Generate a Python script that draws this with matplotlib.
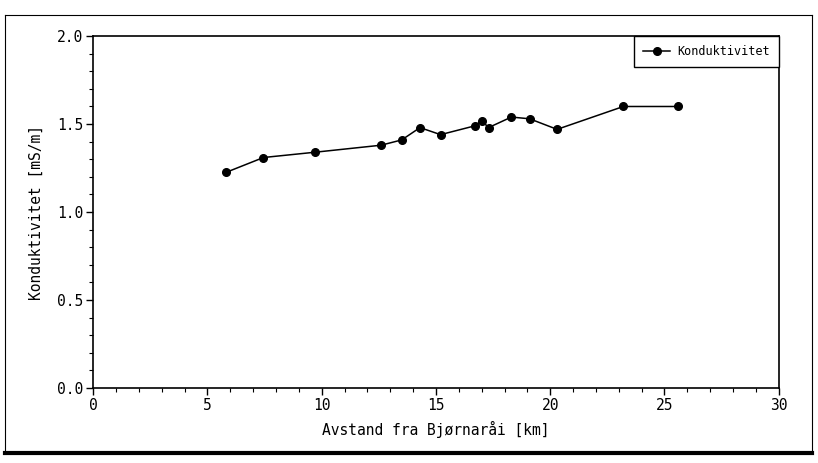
import numpy as np
import matplotlib
matplotlib.use("Agg")
import matplotlib.pyplot as plt
from matplotlib.ticker import MultipleLocator, FormatStrFormatter

# Dados (distancia em km, condutividade em mS/m)
avstand = [5.8, 7.45, 9.7, 12.6, 13.5, 14.3, 15.2, 16.7, 17.0, 17.3,
           18.3, 19.1, 20.3, 23.2, 25.6]
konduktivitet = [1.225, 1.31, 1.34, 1.38, 1.41, 1.48, 1.44, 1.49, 1.52, 1.48,
                 1.54, 1.53, 1.47, 1.60, 1.60]

serie_navn = "Konduktivitet"
x_label = "Avstand fra Bjørnaråi [km]"
y_label = "Konduktivitet [mS/m]"

plt.rcParams["font.family"] = ["DejaVu Sans Mono"]

fig = plt.figure(figsize=(8.18, 4.63), dpi=100)
ax = fig.add_axes([0.114, 0.162, 0.838, 0.760])

ax.plot(avstand, konduktivitet, color="black", lw=1.1, marker="o", ms=5.5,
        label=serie_navn)

ax.set_xlim(0, 30)
ax.set_ylim(0, 2.0)
ax.xaxis.set_major_locator(MultipleLocator(5))
ax.xaxis.set_minor_locator(MultipleLocator(1))
ax.yaxis.set_major_locator(MultipleLocator(0.5))
ax.yaxis.set_minor_locator(MultipleLocator(0.1))
ax.yaxis.set_major_formatter(FormatStrFormatter("%.1f"))

ax.tick_params(which="major", direction="out", length=5, width=1, labelsize=10.5, pad=2)
ax.tick_params(which="minor", direction="out", length=3, width=0.8)
for s in ax.spines.values():
    s.set_linewidth(1.2)

ax.set_xlabel(x_label, fontsize=10.5, labelpad=6)
ax.set_ylabel(y_label, fontsize=10.5, labelpad=10)

leg = ax.legend(loc="upper right", borderaxespad=0, fancybox=False,
                edgecolor="black", framealpha=1, fontsize=8.5,
                handlelength=2.3, borderpad=0.75, handletextpad=0.6)
leg.get_frame().set_linewidth(1.0)

# moldura externa da figura
fig.add_artist(plt.Line2D([0.006, 0.993], [0.968, 0.968], color="black", lw=0.8))
fig.add_artist(plt.Line2D([0.006, 0.006], [0.022, 0.968], color="black", lw=0.8))
fig.add_artist(plt.Line2D([0.993, 0.993], [0.022, 0.968], color="black", lw=0.8))
fig.add_artist(plt.Line2D([0.006, 0.993], [0.022, 0.022], color="black", lw=3))

fig.savefig("out.png", dpi=100)
